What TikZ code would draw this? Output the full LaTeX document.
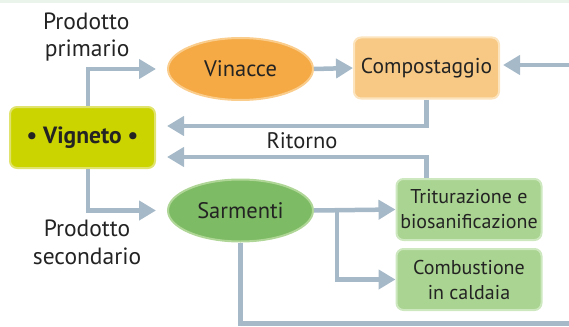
\documentclass[tikz,border=0pt]{standalone}
\usepackage{fontspec}
\setmainfont{PT Sans}
\usepackage{tikz}
\usetikzlibrary{arrows.meta,positioning,shapes.geometric}
\definecolor{VGNyellow}{RGB}{204,212,0}
\definecolor{VGNyellowb}{RGB}{224,228,110}
\definecolor{VNCorange}{RGB}{245,170,70}
\definecolor{VNCorangeb}{RGB}{250,205,140}
\definecolor{CMPorange}{RGB}{248,201,132}
\definecolor{CMPorangeb}{RGB}{252,228,190}
\definecolor{SRMgreen}{RGB}{125,187,100}
\definecolor{SRMgreenb}{RGB}{175,214,150}
\definecolor{BOXgreen}{RGB}{170,212,145}
\definecolor{BOXgreenb}{RGB}{205,232,190}
\definecolor{FLOWgray}{RGB}{165,185,200}
\definecolor{TXTdark}{RGB}{35,35,35}
\definecolor{BANDgreen}{RGB}{234,244,234}

\begin{document}
\begin{tikzpicture}[x=1pt, y=-1pt,
    every node/.style={text=TXTdark, font=\fontsize{22.5}{25}\selectfont},
    box/.style={rectangle, rounded corners=7pt, line width=2pt, minimum width=145pt, minimum height=61pt, align=center, inner sep=2pt},
    oval/.style={ellipse, line width=2pt, minimum width=145pt, minimum height=62pt, inner sep=0pt},
    flow/.style={FLOWgray, line width=4.5pt, -{Triangle[length=17pt, width=19pt]}},
    link/.style={FLOWgray, line width=4.5pt}]
    \useasboundingbox (0,0) rectangle (569,326);
    \fill[BANDgreen] (0,0) rectangle (569,3.5);

    % Nodes
    \node[box, fill=VGNyellow, draw=VGNyellowb, font=\fontsize{23.5}{25}\selectfont\bfseries] (vigneto) at (82.5,137.5) {\textbullet\ Vigneto \textbullet};
    \node[oval, fill=VNCorange, draw=VNCorangeb] (vinacce) at (240.5,69) {Vinacce};
    \node[box, fill=CMPorange, draw=CMPorangeb, font=\fontsize{21.5}{25}\selectfont] (compost) at (426.5,68) {Compostaggio};
    \node[oval, fill=SRMgreen, draw=SRMgreenb] (sarmenti) at (240.5,210.5) {Sarmenti};
    \node[box, fill=BOXgreen, draw=BOXgreenb, font=\fontsize{20}{25}\selectfont] (trit) at (469,209.5) {Triturazione e\\biosanificazione};
    \node[box, fill=BOXgreen, draw=BOXgreenb, font=\fontsize{20}{25}\selectfont] (comb) at (469,279.5) {Combustione\\in caldaia};

    % Labels
    \node[align=right, anchor=east, font=\fontsize{23.5}{27}\selectfont] (prim) at (133,37) {Prodotto\\primario};
    \node[align=center, font=\fontsize{23.5}{28}\selectfont] (sec) at (87,242) {Prodotto\\secondario};
    \node (ritorno) at (302,141) {Ritorno};

    \coordinate (rin) at (569,65);
    \coordinate (rout) at (569,323.5);

    % Connectors
    \draw[flow, shorten >=11pt] ([xshift=5.5pt]vigneto.north) |- (vinacce.west);
    \draw[flow, shorten >=11pt] ([xshift=5.5pt]vigneto.south) |- (sarmenti.west);
    \draw[flow] (vinacce.east) -- (compost.west);
    \draw[flow, shorten >=3pt] (rin) -- (rin -| compost.east);
    \draw[flow, shorten >=11pt] (compost.south) |- (vigneto.east |- 0,126);
    \draw[flow, shorten >=11pt] (trit.north -| compost.south) |- (vigneto.east |- 0,157);
    \draw[flow] (sarmenti.east) -- (trit.west);
    \draw[flow] (sarmenti.east -| 337,0) |- (comb.west);
    \draw[link] (sarmenti.south) |- (rout);
\end{tikzpicture}
\end{document}
